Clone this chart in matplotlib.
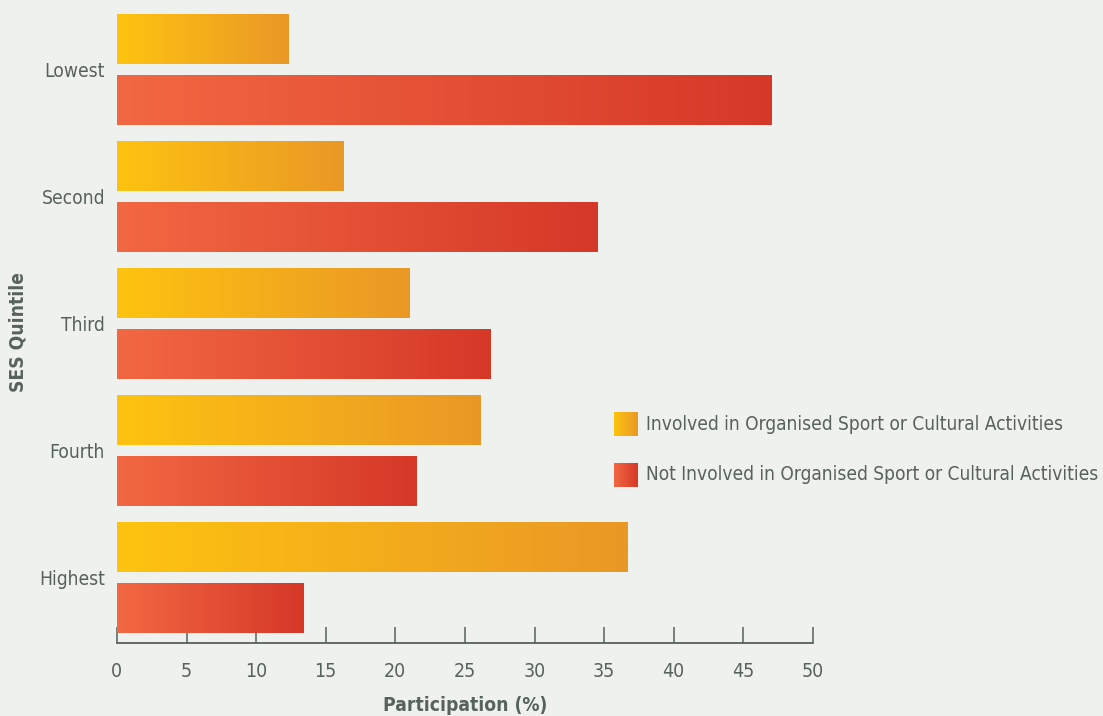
import numpy as np
import matplotlib
matplotlib.use('Agg')
import matplotlib.pyplot as plt
from matplotlib.colors import LinearSegmentedColormap

categories = ['Lowest', 'Second', 'Third', 'Fourth', 'Highest']
involved = [12.3, 16.3, 21.0, 26.1, 36.7]
not_involved = [47.0, 34.5, 26.8, 21.5, 13.4]
series_labels = ['Involved in Organised Sport or Cultural Activities',
                 'Not Involved in Organised Sport or Cultural Activities']
xticks = [0, 5, 10, 15, 20, 25, 30, 35, 40, 45, 50]

BG = '#eff1ee'
TXT = '#56625b'
cm_yel = LinearSegmentedColormap.from_list('yel', ['#fec310', '#ea9826'])
cm_red = LinearSegmentedColormap.from_list('red', ['#f26842', '#d63828'])
grad = np.linspace(0, 1, 256).reshape(1, -1)

plt.rcParams['font.family'] = ['DejaVu Sans']
plt.rcParams['font.stretch'] = 'condensed'
fig = plt.figure(figsize=(11.03, 7.16), dpi=100, facecolor=BG)
ax = fig.add_axes([0.106, 0.102, 0.631, 0.889], facecolor=BG)

y = np.arange(len(categories))
off = 0.24
h = 0.386
b1 = ax.barh(y - off, involved, height=h)
b2 = ax.barh(y + off, not_involved, height=h)
for bars, cm in ((b1, cm_yel), (b2, cm_red)):
    for r in bars:
        x0, y0, w, hh = r.get_x(), r.get_y(), r.get_width(), r.get_height()
        ax.imshow(grad, extent=(x0, x0 + w, y0 + hh, y0), aspect='auto',
                  cmap=cm, zorder=2, interpolation='bilinear')
        r.set_visible(False)

ax.set_xlim(0, 50)
ax.set_ylim(4.512, -0.5)
ax.set_xticks(xticks)
ax.set_xticklabels([str(t) for t in xticks])
ax.set_yticks(y)
ax.set_yticklabels(categories)
for s in ('top', 'right', 'left'):
    ax.spines[s].set_visible(False)
ax.spines['bottom'].set_color(TXT)
ax.spines['bottom'].set_linewidth(1.3)
ax.tick_params(axis='x', direction='in', length=11.5, width=1.1, color=TXT,
               labelcolor=TXT, labelsize=14, pad=14)
ax.tick_params(axis='y', length=0, labelcolor=TXT, labelsize=13.8, pad=8.6)
ax.set_xlabel('Participation (%)', fontsize=13.8, fontweight='bold', color=TXT)
ax.set_ylabel('SES Quintile', fontsize=13.8, fontweight='bold', color=TXT)
ax.xaxis.set_label_coords(0.5, -0.083)
ax.yaxis.set_label_coords(-0.129, 0.489)

# legend with gradient swatches
W, H = 1103, 716
for i, (lab, cm) in enumerate(zip(series_labels, (cm_yel, cm_red))):
    top = 412 + i * 51
    sw = fig.add_axes([614 / W, 1 - (top + 24) / H, 24 / W, 24 / H])
    sw.imshow(grad, aspect='auto', cmap=cm, interpolation='bilinear')
    sw.axis('off')
    fig.text(646 / W, 1 - (top + 12) / H, lab, fontsize=13.7, color=TXT,
             va='center', ha='left')

fig.savefig('out.png', dpi=100, facecolor=BG)
